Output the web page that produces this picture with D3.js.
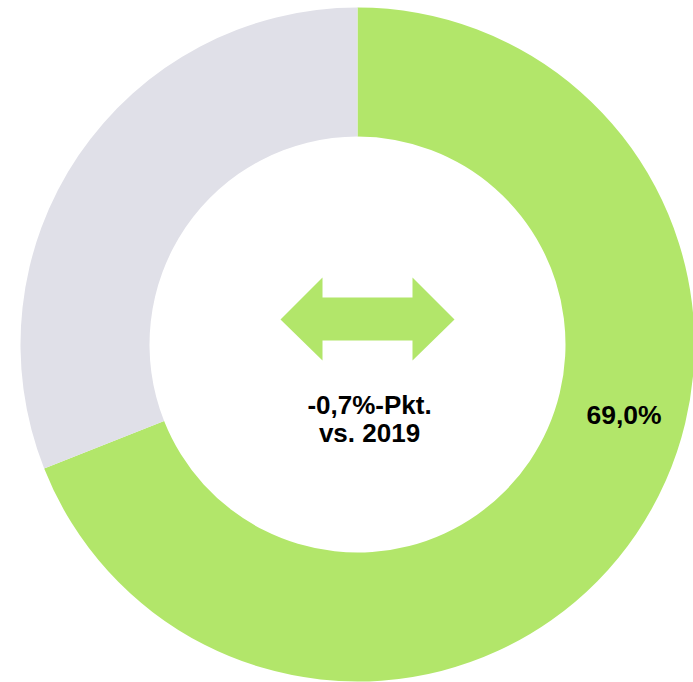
<!DOCTYPE html>
<html>
<head>
<meta charset="utf-8">
<script src="https://cdn.jsdelivr.net/npm/d3@7"></script>
<style>
  body { margin: 0; background: #fff; }
  svg text { font-family: "Liberation Sans", Arial, sans-serif; font-weight: bold; fill: #000; }
</style>
</head>
<body>
<div id="container"></div>
<script>
var categories = ['Anteil', 'Rest'];
var values = [69.0, 31.0];
var colors = ['#b2e66a', '#e0e0e8'];
var valueLabel = '69,0%';
var centerLines = ['-0,7%-Pkt.', 'vs. 2019'];

var width = 693,
    height = 682,
    cx = 357.5,
    cy = 344.5,
    outerR = 337,
    innerR = 208;

var svg = d3.select('#container')
    .append('svg')
    .attr('width', width)
    .attr('height', height);
var g = svg.append('g')
    .attr('transform', 'translate(' + cx + ',' + cy + ')');

var data = categories.map(function(c, i) {
    return { name: c, value: values[i] };
});

var pie = d3.pie()
    .sort(null)
    .value(function(d) { return d.value; });
var arc = d3.arc()
    .innerRadius(innerR)
    .outerRadius(outerR);

g.selectAll('path.slice')
    .data(pie(data))
    .enter()
    .append('path')
    .attr('class', 'slice')
    .attr('d', arc)
    .style('fill', function(d, i) { return colors[i]; });

// value label sits a bit higher than the slice centroid
var labelAngle = 104.7 * Math.PI / 180;
var labelR = (innerR + outerR) / 2 + 3;
g.append('text')
    .attr('x', labelR * Math.sin(labelAngle))
    .attr('y', -labelR * Math.cos(labelAngle) + 10)
    .attr('text-anchor', 'middle')
    .style('font-size', '26.5px')
    .text(valueLabel);

// double arrow
var arrow = [[-77, -25], [-35, -67], [-35, -47], [55, -47], [55, -67], [97, -25],
             [55, 16], [55, -4], [-35, -4], [-35, 16]];
g.append('path')
    .attr('d', d3.line()(arrow) + 'Z')
    .style('fill', colors[0]);

g.selectAll('text.center')
    .data(centerLines)
    .enter()
    .append('text')
    .attr('class', 'center')
    .attr('x', 12)
    .attr('y', function(d, i) { return 69 + i * 28; })
    .attr('text-anchor', 'middle')
    .style('font-size', '26px')
    .text(function(d) { return d; });
</script>
</body>
</html>
